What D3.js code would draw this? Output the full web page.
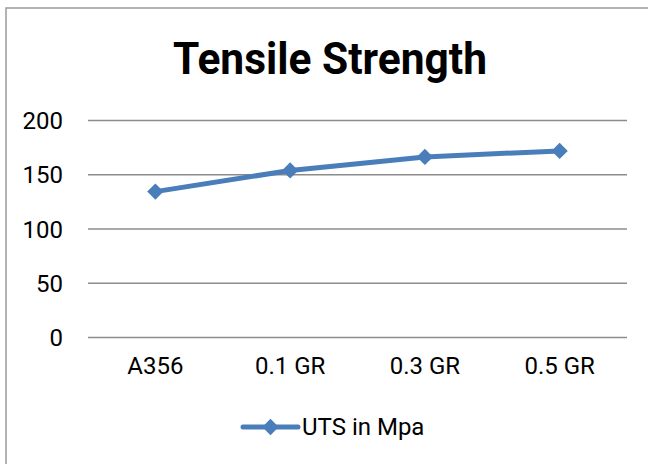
<!DOCTYPE html>
<html>
<head>
<meta charset="utf-8">
<script src="https://cdn.jsdelivr.net/npm/d3@7"></script>
<style>
  html, body { margin: 0; padding: 0; background: #fff; }
  svg { display: block; }
</style>
</head>
<body>
<script>
// chart data
const categories = ['A356', '0.1 GR', '0.3 GR', '0.5 GR'];
const utsValues = [134, 153.5, 166, 171.5];
const yTicks = [0, 50, 100, 150, 200];
const seriesName = 'UTS in Mpa';
const chartTitle = 'Tensile Strength';

const width = 648, height = 464;
const margin = { top: 120, right: 21, bottom: 127, left: 88 };
const blue = '#4a7ebb';
const font = 'Roboto, "Liberation Sans", sans-serif';

const svg = d3.select('body').append('svg')
    .attr('width', width)
    .attr('height', height);

// outer chart frame (right and bottom edges are cut off by the picture)
svg.append('rect')
    .attr('x', 6).attr('y', 8)
    .attr('width', 700).attr('height', 500)
    .attr('fill', '#fff')
    .attr('stroke', '#9a9a9a')
    .attr('stroke-width', 1.5);

const x = d3.scaleBand()
    .domain(categories)
    .range([margin.left, width - margin.right]);

const y = d3.scaleLinear()
    .domain([0, 200])
    .range([height - margin.bottom, margin.top]);

// gridlines + y labels
const yAxis = d3.axisLeft(y)
    .tickValues(yTicks)
    .tickSize(-(width - margin.right - margin.left))
    .tickPadding(25);

const yg = svg.append('g')
    .attr('transform', 'translate(' + margin.left + ',0)')
    .call(yAxis);
yg.select('.domain').remove();
yg.selectAll('.tick line')
    .attr('stroke', '#8c8c8c')
    .attr('stroke-width', 1.5);
yg.selectAll('.tick text')
    .attr('font-family', font)
    .attr('font-size', 24)
    .attr('fill', '#000')
    .attr('dy', '0.36em');

// x labels
const xAxis = d3.axisBottom(x).tickSize(0).tickPadding(20);
const xg = svg.append('g')
    .attr('transform', 'translate(0,' + y(0) + ')')
    .call(xAxis);
xg.select('.domain').remove();
xg.selectAll('.tick text')
    .attr('font-family', font)
    .attr('font-size', 24)
    .attr('fill', '#000')
    .attr('dy', '0.71em');

// series line
const cx = (d, i) => x(categories[i]) + x.bandwidth() / 2;
const line = d3.line()
    .x(cx)
    .y(d => y(d));

svg.append('path')
    .datum(utsValues)
    .attr('d', line)
    .attr('fill', 'none')
    .attr('stroke', blue)
    .attr('stroke-width', 5)
    .attr('stroke-linejoin', 'round');

const diamond = d3.symbol().type(d3.symbolDiamond2).size(170);

svg.selectAll('.marker')
    .data(utsValues)
    .join('path')
    .attr('class', 'marker')
    .attr('d', diamond)
    .attr('transform', (d, i) => 'translate(' + cx(d, i) + ',' + y(d) + ')')
    .attr('fill', blue);

// title
svg.append('text')
    .attr('x', 330)
    .attr('y', 74)
    .attr('text-anchor', 'middle')
    .attr('font-family', '"Liberation Sans Narrow", Roboto, sans-serif')
    .attr('font-weight', 'bold')
    .attr('font-size', 45)
    .attr('textLength', 314)
    .attr('lengthAdjust', 'spacingAndGlyphs')
    .text(chartTitle);

// legend
const legend = svg.append('g').attr('transform', 'translate(243,427)');
legend.append('line')
    .attr('x1', 0).attr('x2', 55)
    .attr('y1', 0).attr('y2', 0)
    .attr('stroke', blue)
    .attr('stroke-width', 5)
    .attr('stroke-linecap', 'round');
legend.append('path')
    .attr('d', diamond)
    .attr('transform', 'translate(27.5,0)')
    .attr('fill', blue);
legend.append('text')
    .attr('x', 59)
    .attr('y', 0)
    .attr('dy', '0.35em')
    .attr('font-family', font)
    .attr('font-size', 24)
    .attr('fill', '#000')
    .text(seriesName);
</script>
</body>
</html>
